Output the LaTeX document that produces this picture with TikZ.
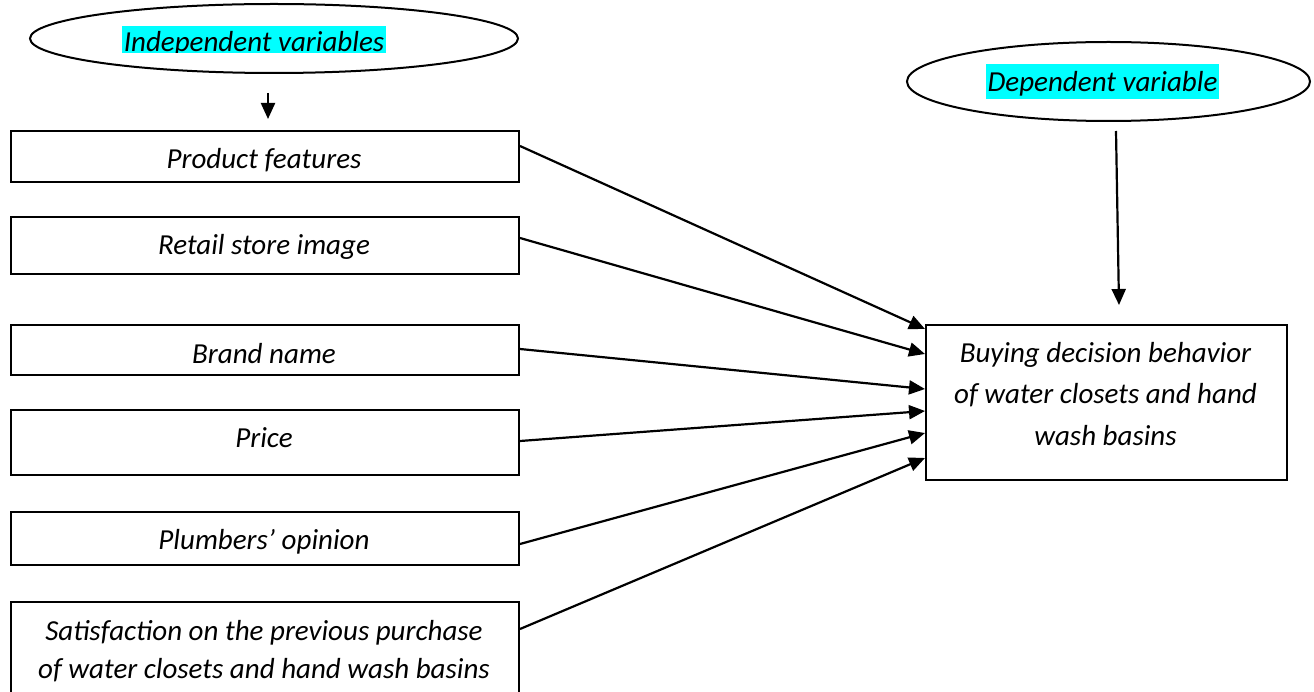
\documentclass[tikz,border=0pt]{standalone}
\usepackage{fontspec}
\setmainfont{Carlito}
\usetikzlibrary{shapes.geometric,arrows.meta,calc}
\definecolor{hlcyan}{RGB}{0,255,255}
\begin{document}
\begin{tikzpicture}[x=1pt,y=-1pt,
  box/.style={draw, line width=2pt, rectangle, inner sep=0pt, anchor=north west, minimum width=508pt},
  lbl/.style={font=\fontsize{29}{41.5}\selectfont\itshape, inner sep=0pt, anchor=base, align=center},
  oval/.style={draw, ellipse, line width=2pt, inner sep=0pt},
  link/.style={line width=2.2pt, -{Triangle[length=16pt,width=14pt]}},
  hl/.style={fill=hlcyan, inner sep=0pt, anchor=base, font=\fontsize{29}{34}\selectfont\itshape}
]
\useasboundingbox (0,0) rectangle (1314,692);

% ellipses
\node[oval, minimum width=488pt, minimum height=69pt] (iv) at (274,38.5) {};
\begin{scope}
  \clip (110,25) rectangle (400,53);
  \node[hl, minimum width=264pt, text height=26pt, text depth=8pt] (ivt) at (254,52) {Independent variables};
\end{scope}
\node[oval, minimum width=403pt, minimum height=79pt] (dv) at (1108.5,81.5) {};
\node[hl, minimum width=233pt, text height=28pt, text depth=7pt] (dvt) at (1102.5,92) {Dependent variable};

% left boxes
\node[box, minimum height=51pt] (b1) at (10,130) {};
\node[box, minimum height=57pt] (b2) at (10,216) {};
\node[box, minimum height=50pt] (b3) at (10,324) {};
\node[box, minimum height=65pt] (b4) at (10,409) {};
\node[box, minimum height=53pt] (b5) at (10,511) {};
\node[box, minimum height=99pt] (b6) at (10,601) {};

\node[lbl] (t1) at (264,169) {Product features};
\node[lbl] (t2) at (264,255) {Retail store image};
\node[lbl] (t3) at (264,363) {Brand name};
\node[lbl] (t4) at (264,447) {Price};
\node[lbl] (t5) at (264,549) {Plumbers’ opinion};
\node[lbl, font=\fontsize{29}{38}\selectfont\itshape] (t6) at (264,678) {Satisfaction on the previous purchase\\of water closets and hand wash basins};

% right box
\node[draw, line width=2pt, rectangle, inner sep=0pt, anchor=north west, minimum width=361pt, minimum height=155pt] (out) at (925,324) {};
\node[lbl] (tout) at (1105.5,445) {Buying decision behavior\\of water closets and hand\\wash basins};

% arrows
\coordinate (ivs) at (268,93);
\coordinate (ive) at (268,119);
\draw[link] (ivs) -- (ive);
\coordinate (dvs) at (1116,131);
\coordinate (dve) at (1119,305);
\draw[link] (dvs) -- (dve);

\draw[link] ([yshift=10.5pt]b1.east) -- ([yshift=73.5pt]out.west);
\draw[link] ([yshift=7.5pt]b2.east) -- ([yshift=48.5pt]out.west);
\draw[link] ([yshift=1pt]b3.east) -- ([yshift=13.5pt]out.west);
\draw[link] ([yshift=1.5pt]b4.east) -- ([yshift=-8.5pt]out.west);
\draw[link] ([yshift=-5.5pt]b5.east) -- ([yshift=-30.5pt]out.west);
\draw[link] ([yshift=22.5pt]b6.east) -- ([yshift=-55.5pt]out.west);
\end{tikzpicture}
\end{document}
